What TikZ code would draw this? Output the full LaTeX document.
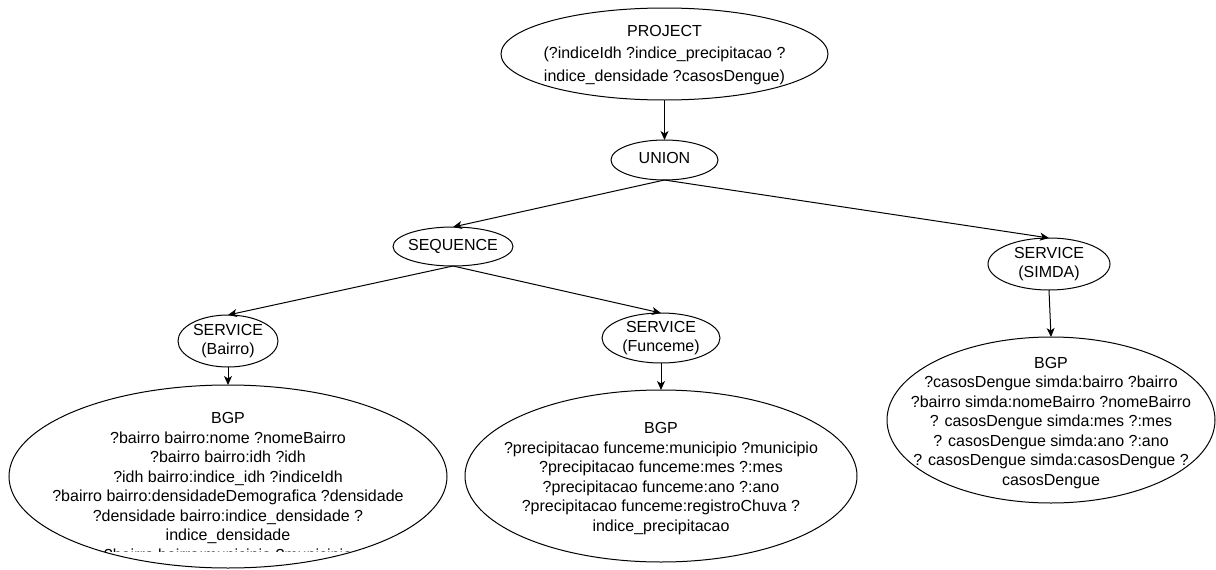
\documentclass[tikz,border=0pt]{standalone}
\usepackage{fontspec}
\setmainfont{Liberation Sans}
\usetikzlibrary{shapes.geometric,arrows.meta}
\begin{document}
\begin{tikzpicture}[x=1pt,y=-1pt,
  op/.style={draw=black, line width=1pt, ellipse, inner sep=0pt, outer sep=0pt},
  txt/.style={align=center, inner sep=0pt, font=\fontsize{16}{19.5}\selectfont},
  flow/.style={draw=black, line width=1pt, -{Stealth[length=9pt,width=8pt,inset=2.5pt]}}
]
\useasboundingbox (0,0) rectangle (1216,570);

% operator tree
\node[op, minimum width=327pt, minimum height=92pt,
  label={[txt, font=\fontsize{16}{22.5}\selectfont]center:{\strut PROJECT\\(?indiceIdh ?indice\_precipitacao ?\\indice\_densidade ?casosDengue)\strut}}]
  (project) at (664.5,54) {};
\node[op, minimum width=107pt, minimum height=40pt,
  label={[txt]center:{\strut UNION\strut}}] (union) at (664.5,160) {};
\node[op, minimum width=120pt, minimum height=39pt,
  label={[txt]center:{\strut SEQUENCE\strut}}] (seq) at (453,246.5) {};

% service calls
\node[op, minimum width=100pt, minimum height=52pt,
  label={[txt]center:{\strut SERVICE\\(Bairro)\strut}}] (bairro) at (228,341) {};
\node[op, minimum width=118pt, minimum height=50pt,
  label={[txt]center:{\strut SERVICE\\(Funceme)\strut}}] (funceme) at (661,338) {};
\node[op, minimum width=122pt, minimum height=52pt,
  label={[txt]center:{\strut SERVICE\\(SIMDA)\strut}}] (simda) at (1049,264) {};

% basic graph patterns
\node[op, minimum width=438pt, minimum height=183pt] (bgp1) at (228,476.5) {};
\begin{scope}
  % the last triple overflows the shape and is cut off
  \clip (0,0) rectangle (1216,551.5);
  \node[txt] (bgp1text) at (228,488) {\strut BGP\\?bairro bairro:nome ?nomeBairro\\?bairro bairro:idh ?idh\\?idh bairro:indice\_idh ?indiceIdh\\?bairro bairro:densidadeDemografica ?densidade\\?densidade bairro:indice\_densidade ?\\indice\_densidade\\?bairro bairro:municipio ?municipio\strut};
\end{scope}

\node[op, minimum width=392pt, minimum height=172pt] (bgp2) at (661,476) {};
\node[txt] (bgp2text) at (661,478.5) {\strut BGP\\?precipitacao funceme:municipio ?municipio\\?precipitacao funceme:mes ?:mes\\?precipitacao funceme:ano ?:ano\\?precipitacao funceme:registroChuva ?\\indice\_precipitacao\strut};

\node[op, minimum width=328pt, minimum height=166pt] (bgp3) at (1051,420) {};
\node[txt] (bgp3text) at (1051,423) {\strut BGP\\?casosDengue simda:bairro ?bairro\\?bairro simda:nomeBairro ?nomeBairro\\? casosDengue simda:mes ?:mes\\? casosDengue simda:ano ?:ano\\? casosDengue simda:casosDengue ?\\casosDengue\strut};

% connectors
\draw[flow] (project.south) -- (union.north);
\draw[flow] (union.south) -- (seq.north);
\draw[flow] (union.south) -- (simda.north);
\draw[flow] (seq.south) -- (bairro.north);
\draw[flow] (seq.south) -- (funceme.north);
\draw[flow] (bairro.south) -- (bgp1.north);
\draw[flow] (funceme.south) -- (bgp2.north);
\draw[flow] (simda.south) -- (bgp3.north);
\end{tikzpicture}
\end{document}
